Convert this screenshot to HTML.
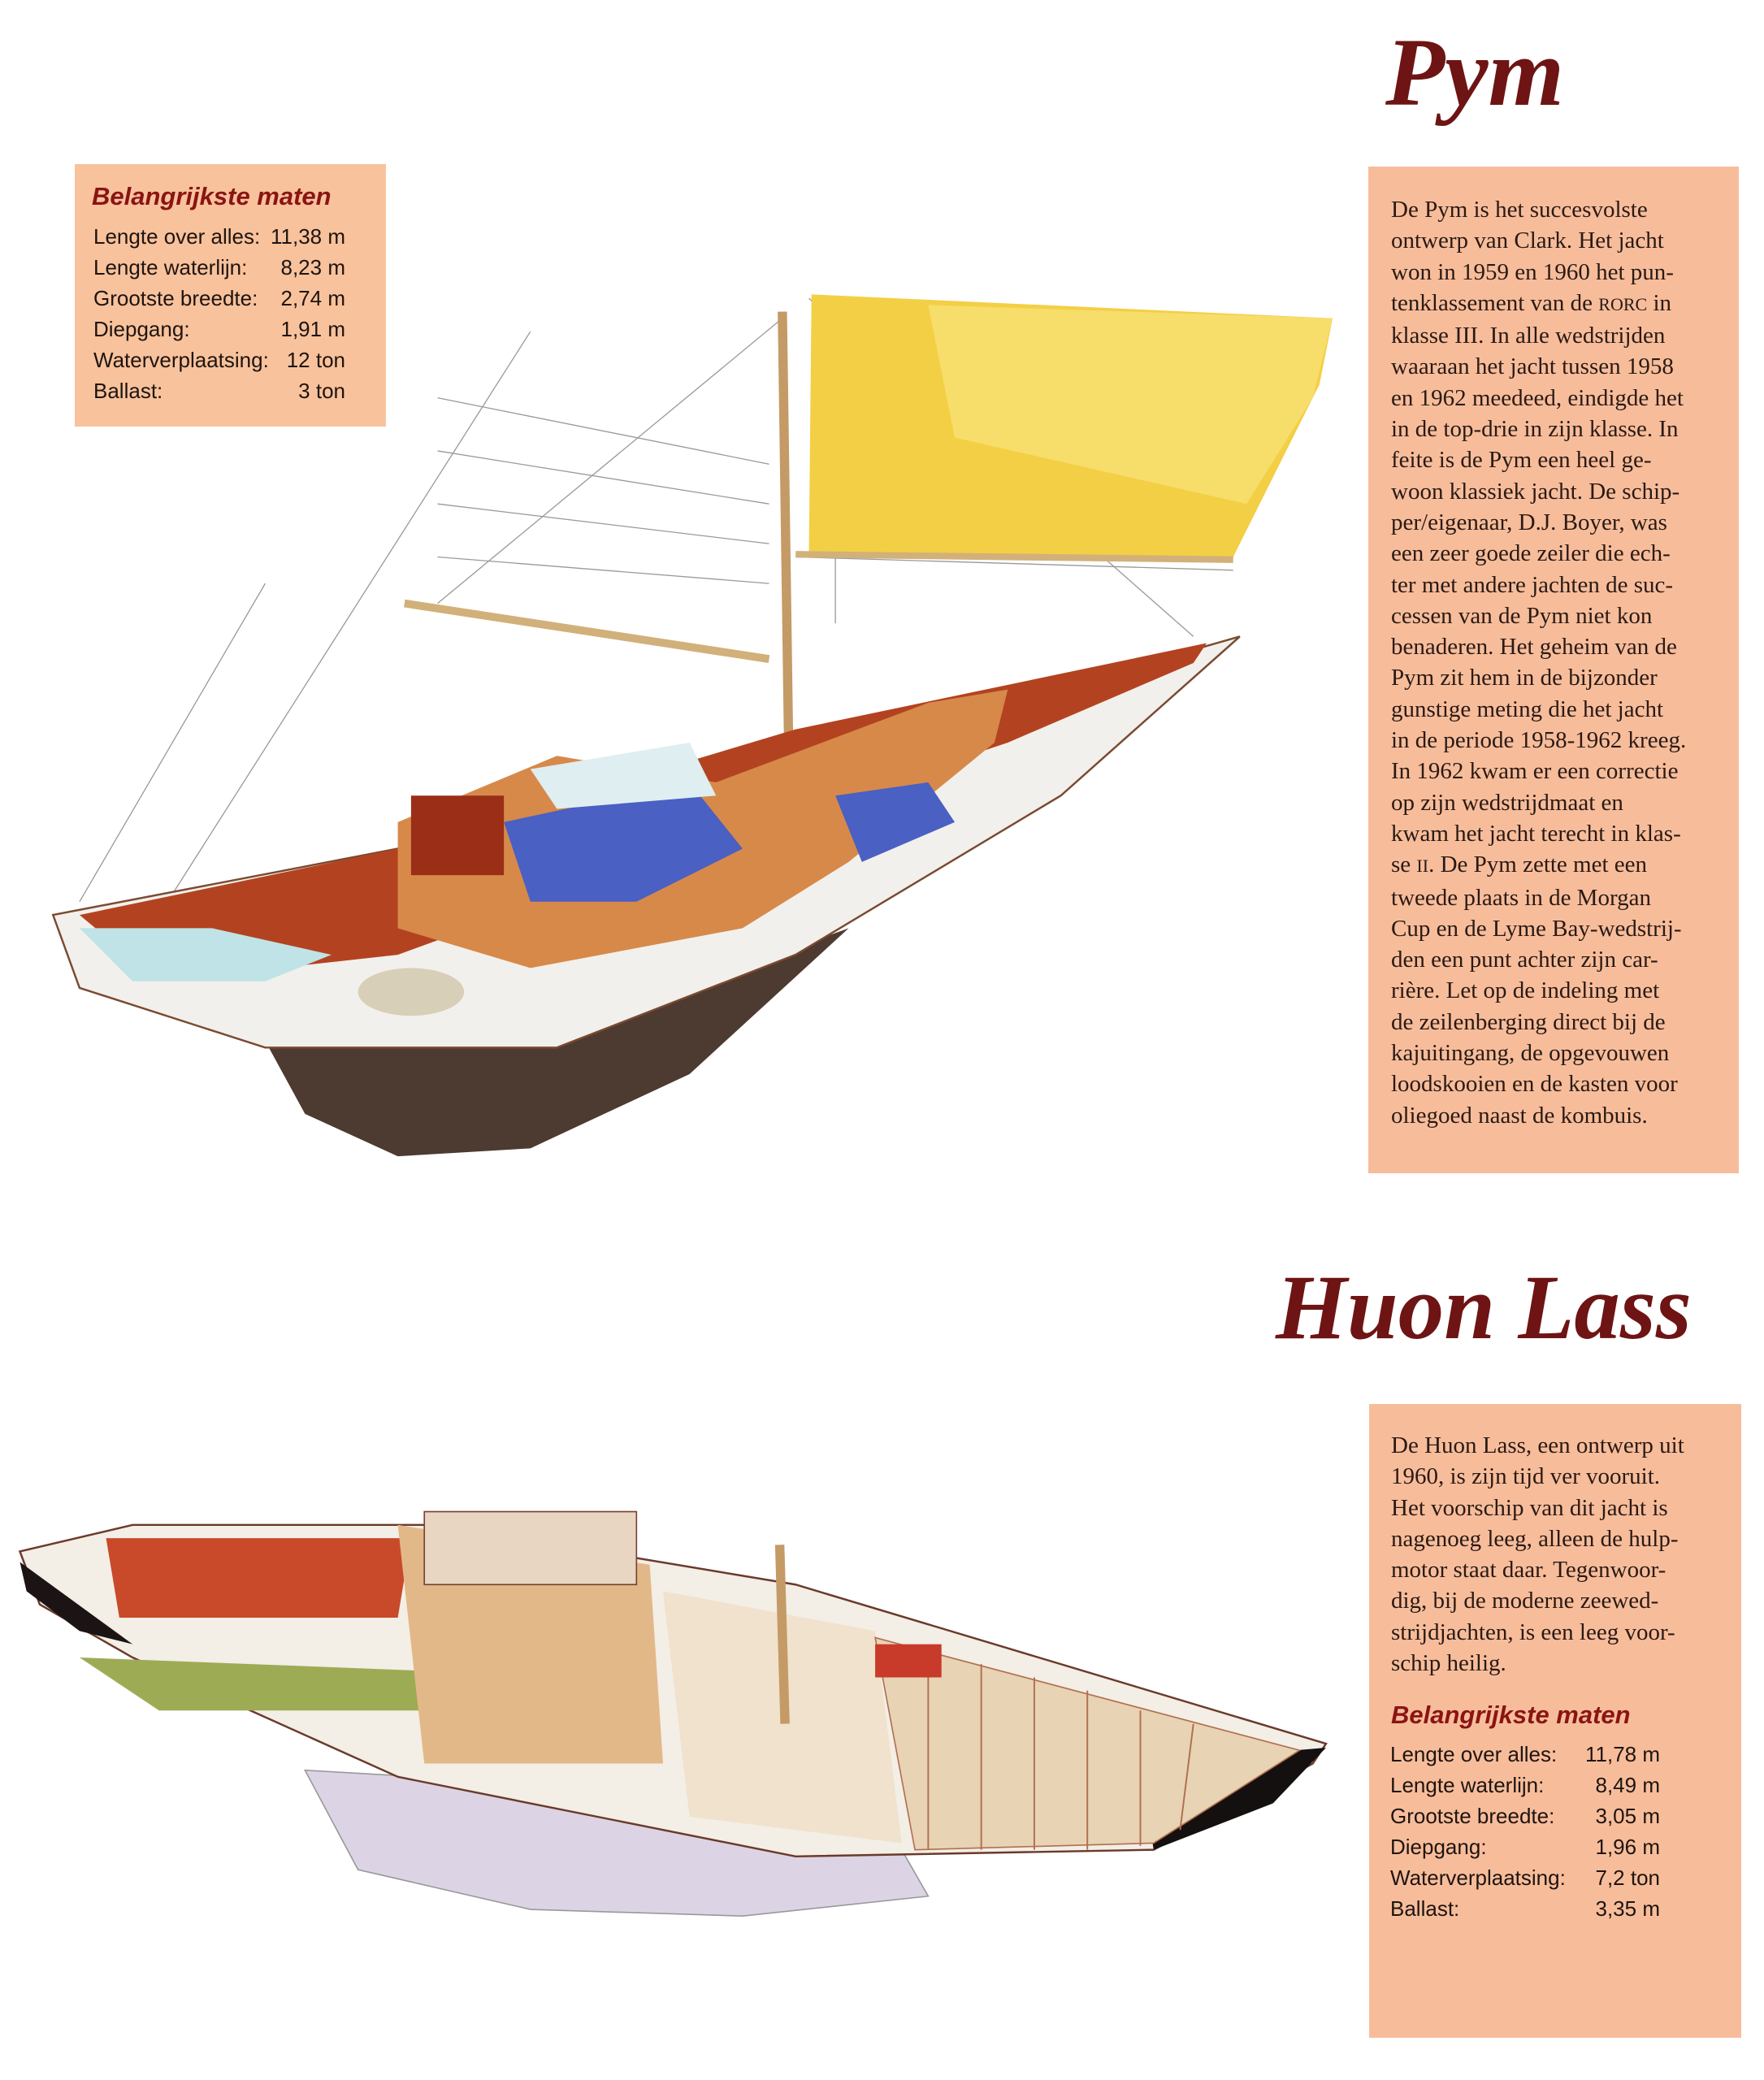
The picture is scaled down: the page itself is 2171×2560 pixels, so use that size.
<!DOCTYPE html>
<html><head><meta charset="utf-8">
<style>
html,body{margin:0;padding:0;background:#fff;}
body{width:2171px;height:2560px;position:relative;overflow:hidden;}
.box{position:absolute;background:#f7bd9b;}
.t{position:absolute;font-family:"Liberation Serif",serif;font-size:29px;color:#2a1a14;white-space:nowrap;line-height:38.3px;}
.h{position:absolute;font-family:"Liberation Sans",sans-serif;font-style:italic;font-weight:bold;color:#8a1414;font-size:31px;white-space:nowrap;}
.r{position:absolute;font-family:"Liberation Sans",sans-serif;font-size:26px;color:#1e1410;white-space:nowrap;}
.title{position:absolute;font-family:"Liberation Serif",serif;font-style:italic;font-weight:bold;color:#6e1414;white-space:nowrap;}
svg{position:absolute;left:0;top:0;}
</style></head><body>

<svg width="2171" height="2560" viewBox="0 0 1330.3 1568.6">
 <g stroke="#999" stroke-width="0.8" fill="none">
  <line x1="400" y1="250" x2="120" y2="690"/>
  <line x1="200" y1="440" x2="60" y2="680"/>
  <line x1="590" y1="240" x2="330" y2="455"/>
  <line x1="610" y1="225" x2="900" y2="480"/>
  <line x1="630" y1="225" x2="630" y2="470"/>
  <line x1="330" y1="300" x2="580" y2="350"/>
  <line x1="330" y1="340" x2="580" y2="380"/>
  <line x1="330" y1="380" x2="580" y2="410"/>
  <line x1="330" y1="420" x2="580" y2="440"/>
  <line x1="600" y1="420" x2="930" y2="430"/>
 </g>
 <polygon points="612,222 1005,240 995,290 960,360 930,420 610,420" fill="#f3cf45"/>
 <polygon points="700,230 1005,240 990,300 940,380 720,330" fill="#f7dd6a"/>
 <line x1="590" y1="235" x2="596" y2="650" stroke="#c49a66" stroke-width="7"/>
 <line x1="305" y1="455" x2="580" y2="497" stroke="#d2b07a" stroke-width="6"/>
 <line x1="600" y1="418" x2="930" y2="422" stroke="#d2b07a" stroke-width="5"/>
 <polygon points="200,785 230,840 300,872 400,866 520,810 640,700 420,780" fill="#4d3a30"/>
 <polygon points="40,690 60,745 200,790 420,790 600,720 800,600 935,480 900,490 600,560 300,640" fill="#f2f0ec" stroke="#7a4a30" stroke-width="1.5"/>
 <polygon points="60,690 300,640 600,550 910,485 900,500 760,560 520,640 300,720 120,740" fill="#b34320"/>
 <polygon points="300,620 420,570 540,590 620,560 700,530 760,520 750,560 640,650 560,700 400,730 300,700" fill="#d7894a"/>
 <polygon points="380,620 520,590 560,640 480,680 400,680" fill="#4a60c2"/>
 <polygon points="630,600 700,590 720,620 650,650" fill="#4a60c2"/>
 <polygon points="60,700 160,700 250,720 200,740 100,740" fill="#bfe3e6"/>
 <polygon points="400,580 520,560 540,600 420,610" fill="#dfeef0"/>
 <rect x="310" y="600" width="70" height="60" fill="#9a2e16"/>
 <ellipse cx="310" cy="748" rx="40" ry="18" fill="#d8cfb8"/>
 <polygon points="230,1335 270,1410 400,1440 560,1445 700,1430 660,1360" fill="#dcd4e4" stroke="#999" stroke-width="1"/>
 <polygon points="15,1170 100,1150 330,1150 600,1195 1000,1315 990,1330 870,1395 600,1400 300,1340 100,1250 30,1210" fill="#f3eee6" stroke="#6a3a2a" stroke-width="1.5"/>
 <polygon points="15,1178 100,1240 60,1230 20,1200" fill="#1c1414"/>
 <polygon points="860,1330 1000,1318 960,1360 870,1395" fill="#151010"/>
 <polygon points="80,1160 310,1160 300,1220 90,1220" fill="#c84a2a"/>
 <polygon points="60,1250 320,1260 320,1290 120,1290" fill="#9eab55"/>
 <polygon points="300,1150 490,1180 500,1330 320,1330" fill="#e3b888"/>
 <polygon points="500,1200 660,1230 680,1390 520,1370" fill="#f0e2cc"/>
 <polygon points="660,1235 980,1320 870,1390 690,1395" fill="#e8d3b4" stroke="#b07050" stroke-width="1"/>
 <g stroke="#b07050" stroke-width="1.2">
  <line x1="700" y1="1245" x2="700" y2="1395"/><line x1="740" y1="1255" x2="740" y2="1395"/>
  <line x1="780" y1="1265" x2="780" y2="1395"/><line x1="820" y1="1275" x2="820" y2="1395"/>
  <line x1="860" y1="1290" x2="860" y2="1392"/><line x1="900" y1="1300" x2="890" y2="1380"/>
 </g>
 <rect x="320" y="1140" width="160" height="55" fill="#e8d6c2" stroke="#7a4030"/>
 <line x1="588" y1="1165" x2="592" y2="1300" stroke="#c49a66" stroke-width="7"/>
 <rect x="660" y="1240" width="50" height="25" fill="#c83a2a"/>
</svg>

<div class="box" style="left:92px;top:202px;width:383px;height:323px;background:#f8c29c"></div>
<div class="h" style="left:113px;top:224px;">Belangrijkste maten</div>
<div class="r" style="left:115px;top:276px;">Lengte over alles:</div><div class="r" style="right:1746px;top:276px;">11,38 m</div>
<div class="r" style="left:115px;top:314px;">Lengte waterlijn:</div><div class="r" style="right:1746px;top:314px;">8,23 m</div>
<div class="r" style="left:115px;top:352px;">Grootste breedte:</div><div class="r" style="right:1746px;top:352px;">2,74 m</div>
<div class="r" style="left:115px;top:390px;">Diepgang:</div><div class="r" style="right:1746px;top:390px;">1,91 m</div>
<div class="r" style="left:115px;top:428px;">Waterverplaatsing:</div><div class="r" style="right:1746px;top:428px;">12 ton</div>
<div class="r" style="left:115px;top:466px;">Ballast:</div><div class="r" style="right:1746px;top:466px;">3 ton</div>

<div class="title" style="left:1705px;top:20px;font-size:120px;">Pym</div>
<div class="box" style="left:1684px;top:205px;width:456px;height:1239px;"></div>
<div class="t" style="left:1712px;top:239px;">De Pym is het succesvolste<br>ontwerp van Clark. Het jacht<br>won in 1959 en 1960 het pun-<br>tenklassement van de <span style="font-size:22px">RORC</span> in<br>klasse III. In alle wedstrijden<br>waaraan het jacht tussen 1958<br>en 1962 meedeed, eindigde het<br>in de top-drie in zijn klasse. In<br>feite is de Pym een heel ge-<br>woon klassiek jacht. De schip-<br>per/eigenaar, D.J. Boyer, was<br>een zeer goede zeiler die ech-<br>ter met andere jachten de suc-<br>cessen van de Pym niet kon<br>benaderen. Het geheim van de<br>Pym zit hem in de bijzonder<br>gunstige meting die het jacht<br>in de periode 1958-1962 kreeg.<br>In 1962 kwam er een correctie<br>op zijn wedstrijdmaat en<br>kwam het jacht terecht in klas-<br>se <span style="font-size:22px">II</span>. De Pym zette met een<br>tweede plaats in de Morgan<br>Cup en de Lyme Bay-wedstrij-<br>den een punt achter zijn car-<br>rière. Let op de indeling met<br>de zeilenberging direct bij de<br>kajuitingang, de opgevouwen<br>loodskooien en de kasten voor<br>oliegoed naast de kombuis.</div>

<div class="title" style="left:1570px;top:1545px;font-size:113px;">Huon Lass</div>
<div class="box" style="left:1685px;top:1728px;width:458px;height:780px;"></div>
<div class="t" style="left:1712px;top:1760px;">De Huon Lass, een ontwerp uit<br>1960, is zijn tijd ver vooruit.<br>Het voorschip van dit jacht is<br>nagenoeg leeg, alleen de hulp-<br>motor staat daar. Tegenwoor-<br>dig, bij de moderne zeewed-<br>strijdjachten, is een leeg voor-<br>schip heilig.</div>
<div class="h" style="left:1712px;top:2093px;">Belangrijkste maten</div>
<div class="r" style="left:1711px;top:2144px;">Lengte over alles:</div><div class="r" style="right:128px;top:2144px;">11,78 m</div>
<div class="r" style="left:1711px;top:2182px;">Lengte waterlijn:</div><div class="r" style="right:128px;top:2182px;">8,49 m</div>
<div class="r" style="left:1711px;top:2220px;">Grootste breedte:</div><div class="r" style="right:128px;top:2220px;">3,05 m</div>
<div class="r" style="left:1711px;top:2258px;">Diepgang:</div><div class="r" style="right:128px;top:2258px;">1,96 m</div>
<div class="r" style="left:1711px;top:2296px;">Waterverplaatsing:</div><div class="r" style="right:128px;top:2296px;">7,2 ton</div>
<div class="r" style="left:1711px;top:2334px;">Ballast:</div><div class="r" style="right:128px;top:2334px;">3,35 m</div>
</body></html>
